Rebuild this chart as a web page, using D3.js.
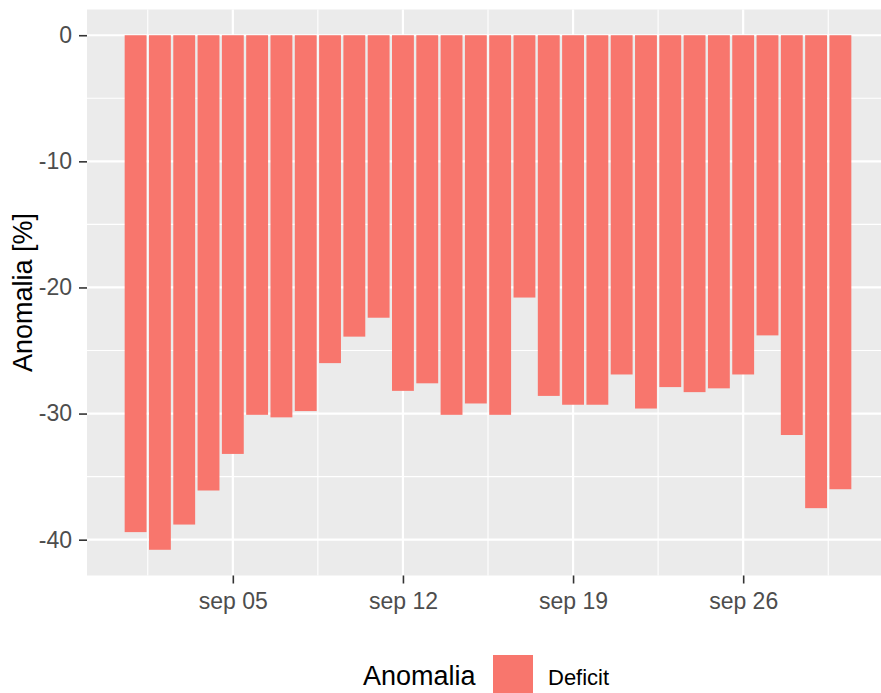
<!DOCTYPE html>
<html>
<head>
<meta charset="utf-8">
<script src="https://cdn.jsdelivr.net/npm/d3@7"></script>
<style>
  html, body { margin: 0; padding: 0; background: #ffffff; }
  svg { display: block; font-family: "Liberation Sans", Arial, sans-serif; }
</style>
</head>
<body>
<svg id="chart" width="881" height="693"></svg>
<script>
// Daily anomaly for September (percent)
const dates = [
  "2021-09-01","2021-09-02","2021-09-03","2021-09-04","2021-09-05",
  "2021-09-06","2021-09-07","2021-09-08","2021-09-09","2021-09-10",
  "2021-09-11","2021-09-12","2021-09-13","2021-09-14","2021-09-15",
  "2021-09-16","2021-09-17","2021-09-18","2021-09-19","2021-09-20",
  "2021-09-21","2021-09-22","2021-09-23","2021-09-24","2021-09-25",
  "2021-09-26","2021-09-27","2021-09-28","2021-09-29","2021-09-30"
];
const anomalia = [
  -39.4, -40.8, -38.8, -36.1, -33.2,
  -30.1, -30.3, -29.8, -26.0, -23.9,
  -22.4, -28.2, -27.6, -30.1, -29.2,
  -30.1, -20.8, -28.6, -29.3, -29.3,
  -26.9, -29.6, -27.9, -28.3, -28.0,
  -26.9, -23.8, -31.7, -37.5, -36.0
];
const xTickDates = ["2021-09-05", "2021-09-12", "2021-09-19", "2021-09-26"];
const xTickLabels = ["sep 05", "sep 12", "sep 19", "sep 26"];
const yTicks = [0, -10, -20, -30, -40];
const yMinorTicks = [-5, -15, -25, -35];
const legendTitle = "Anomalia";
const legendLabels = ["Deficit"];
const yTitle = "Anomalia [%]";

const parse = d3.utcParse("%Y-%m-%d");
const day = 864e5;
const data = dates.map((d, i) => ({ date: parse(d), value: anomalia[i] }));

const svg = d3.select("#chart");
const panel = { left: 87, top: 9.5, right: 889, bottom: 575.5 };
const fill = "#F8766D";
const tickFont = 23;

// x: continuous date scale, bars span 0.9 day, 5% expansion on each side
const dMin = d3.min(data, d => d.date).getTime() - 0.5 * day;
const dMax = d3.max(data, d => d.date).getTime() + 0.5 * day;
const xPad = 0.05 * (dMax - dMin);
const x = d3.scaleUtc()
  .domain([new Date(dMin - xPad), new Date(dMax + xPad)])
  .range([panel.left, panel.right]);

const vMin = Math.min(0, d3.min(anomalia));
const vMax = Math.max(0, d3.max(anomalia));
const yPad = 0.05 * (vMax - vMin);
const y = d3.scaleLinear()
  .domain([vMin - yPad, vMax + yPad])
  .range([panel.bottom, panel.top]);

// panel background
svg.append("rect")
  .attr("x", panel.left).attr("y", panel.top)
  .attr("width", panel.right - panel.left).attr("height", panel.bottom - panel.top)
  .attr("fill", "#EBEBEB");

const grid = svg.append("g");
// minor grid
grid.selectAll(".ymin").data(yMinorTicks).join("line")
  .attr("x1", panel.left).attr("x2", panel.right)
  .attr("y1", d => y(d)).attr("y2", d => y(d))
  .attr("stroke", "#fff").attr("stroke-width", 1.1);
const xMajor = xTickDates.map(parse);
const xMinor = [];
const allMajor = [new Date(xMajor[0].getTime() - 7 * day), ...xMajor, new Date(xMajor[xMajor.length - 1].getTime() + 7 * day)];
for (let i = 0; i < allMajor.length - 1; i++) {
  xMinor.push(new Date((allMajor[i].getTime() + allMajor[i + 1].getTime()) / 2));
}
grid.selectAll(".xmin").data(xMinor.filter(d => x(d) > panel.left && x(d) < panel.right)).join("line")
  .attr("x1", d => x(d)).attr("x2", d => x(d))
  .attr("y1", panel.top).attr("y2", panel.bottom)
  .attr("stroke", "#fff").attr("stroke-width", 1.1);
// major grid
grid.selectAll(".ymaj").data(yTicks).join("line")
  .attr("x1", panel.left).attr("x2", panel.right)
  .attr("y1", d => y(d)).attr("y2", d => y(d))
  .attr("stroke", "#fff").attr("stroke-width", 2.2);
grid.selectAll(".xmaj").data(xMajor).join("line")
  .attr("x1", d => x(d)).attr("x2", d => x(d))
  .attr("y1", panel.top).attr("y2", panel.bottom)
  .attr("stroke", "#fff").attr("stroke-width", 2.2);

// bars
svg.append("g").selectAll("rect").data(data).join("rect")
  .attr("x", d => x(new Date(d.date.getTime() - 0.45 * day)))
  .attr("width", d => x(new Date(d.date.getTime() + 0.45 * day)) - x(new Date(d.date.getTime() - 0.45 * day)))
  .attr("y", d => y(Math.max(0, d.value)))
  .attr("height", d => Math.abs(y(d.value) - y(0)))
  .attr("fill", fill);

// y axis (plain hyphen for negatives)
const yAxis = d3.axisLeft(y).tickValues(yTicks).tickSize(8).tickPadding(7).tickFormat(d => String(d));
const gy = svg.append("g").attr("transform", `translate(${panel.left},0)`).call(yAxis);
gy.select(".domain").remove();
gy.selectAll(".tick line").attr("stroke", "#333").attr("stroke-width", 1.6);
gy.selectAll(".tick text").attr("fill", "#4D4D4D").attr("font-size", tickFont)
  .attr("font-family", "Liberation Sans, Arial, sans-serif");

// x axis
const xAxis = d3.axisBottom(x).tickValues(xMajor).tickSize(8).tickPadding(9)
  .tickFormat((d, i) => xTickLabels[i]);
const gx = svg.append("g").attr("transform", `translate(0,${panel.bottom})`).call(xAxis);
gx.select(".domain").remove();
gx.selectAll(".tick line").attr("stroke", "#333").attr("stroke-width", 1.6);
gx.selectAll(".tick text").attr("fill", "#4D4D4D").attr("font-size", tickFont)
  .attr("font-family", "Liberation Sans, Arial, sans-serif");

// y title
svg.append("text")
  .attr("transform", `translate(32,${(panel.top + panel.bottom) / 2}) rotate(-90)`)
  .attr("text-anchor", "middle")
  .attr("font-size", 27).attr("fill", "#000")
  .text(yTitle);

// legend
const lg = svg.append("g");
lg.append("text").attr("x", 363).attr("y", 685)
  .attr("font-size", 27).attr("fill", "#000").text(legendTitle);
lg.selectAll("rect").data(legendLabels).join("rect")
  .attr("x", 493).attr("y", 655).attr("width", 40).attr("height", 40)
  .attr("fill", fill);
lg.selectAll(".lbl").data(legendLabels).join("text")
  .attr("x", 548).attr("y", 685)
  .attr("font-size", 22).attr("fill", "#000").text(d => d);
</script>
</body>
</html>
